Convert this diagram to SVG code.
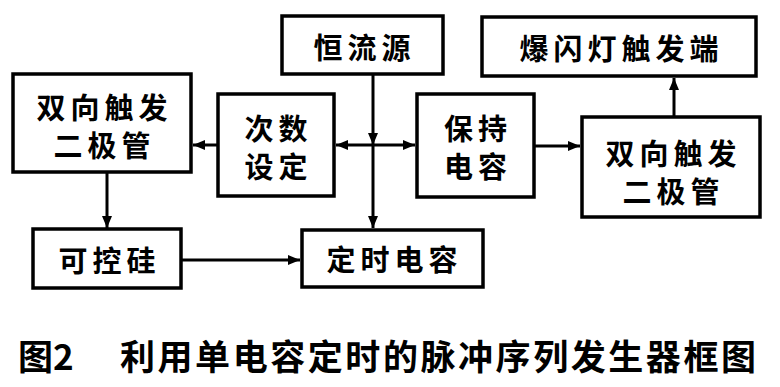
<svg xmlns="http://www.w3.org/2000/svg" width="780" height="387" viewBox="0 0 780 387">
<defs>
<marker id="ah" viewBox="0 0 12 10" refX="12" refY="5" markerWidth="12" markerHeight="10" markerUnits="userSpaceOnUse" orient="auto">
<path d="M0,0 L12,5 L0,10 Z" fill="#000"/>
</marker>
</defs>
<style>
.box{fill:#fff;stroke:#000;stroke-width:3.5}
.t{font-family:"Noto Sans CJK SC","Noto Sans",sans-serif;font-size:29px;font-weight:bold;fill:#000;text-anchor:middle;dominant-baseline:central;letter-spacing:5px}
.c{stroke:#000;stroke-width:3;fill:none}
.cap{font-family:"Noto Sans CJK SC","Noto Sans",sans-serif;font-size:35px;font-weight:bold;fill:#000}
</style>
<rect width="780" height="387" fill="#fff"/>
<g id="connectors">
<line class="c" x1="218" y1="145" x2="193" y2="145" marker-end="url(#ah)"/>
<line class="c" x1="107" y1="172" x2="107" y2="228" marker-end="url(#ah)"/>
<line class="c" x1="181" y1="260" x2="300" y2="260" marker-end="url(#ah)"/>
<line class="c" x1="373" y1="74" x2="373" y2="145" marker-end="url(#ah)"/>
<line class="c" x1="373" y1="145" x2="373" y2="228" marker-end="url(#ah)"/>
<line class="c" x1="373" y1="145" x2="336" y2="145" marker-end="url(#ah)"/>
<line class="c" x1="373" y1="145" x2="415" y2="145" marker-end="url(#ah)"/>
<line class="c" x1="534" y1="146" x2="580" y2="146" marker-end="url(#ah)"/>
<line class="c" x1="674" y1="117" x2="674" y2="78" marker-end="url(#ah)"/>
</g>
<g id="diac-left">
<rect class="box" x="13" y="74" width="178" height="98"/>
<text class="t" x="104.5" y="106">双向触发</text>
<text class="t" x="104.5" y="144">二极管</text>
</g>
<g id="count-set">
<rect class="box" x="218" y="94" width="116" height="102"/>
<text class="t" x="278.5" y="127">次数</text>
<text class="t" x="278.5" y="165">设定</text>
</g>
<g id="current-source">
<rect class="box" x="282" y="16" width="161" height="58"/>
<text class="t" x="364.5" y="46">恒流源</text>
</g>
<g id="hold-cap">
<rect class="box" x="417" y="94" width="117" height="103"/>
<text class="t" x="478" y="127">保持</text>
<text class="t" x="478" y="165">电容</text>
</g>
<g id="flash-trigger">
<rect class="box" x="482" y="17" width="274" height="59"/>
<text class="t" x="621.5" y="47">爆闪灯触发端</text>
</g>
<g id="diac-right">
<rect class="box" x="582" y="117" width="178" height="100"/>
<text class="t" x="673.5" y="152">双向触发</text>
<text class="t" x="673.5" y="190">二极管</text>
</g>
<g id="scr">
<rect class="box" x="33" y="229" width="148" height="59"/>
<text class="t" x="109.5" y="259">可控硅</text>
</g>
<g id="timing-cap">
<rect class="box" x="302" y="230" width="181" height="57"/>
<text class="t" x="394.5" y="258">定时电容</text>
</g>
<g id="caption">
<text class="cap" x="18" y="370">图2</text>
<text class="cap" x="120" y="370" textLength="636" lengthAdjust="spacing">利用单电容定时的脉冲序列发生器框图</text>
</g>
</svg>
